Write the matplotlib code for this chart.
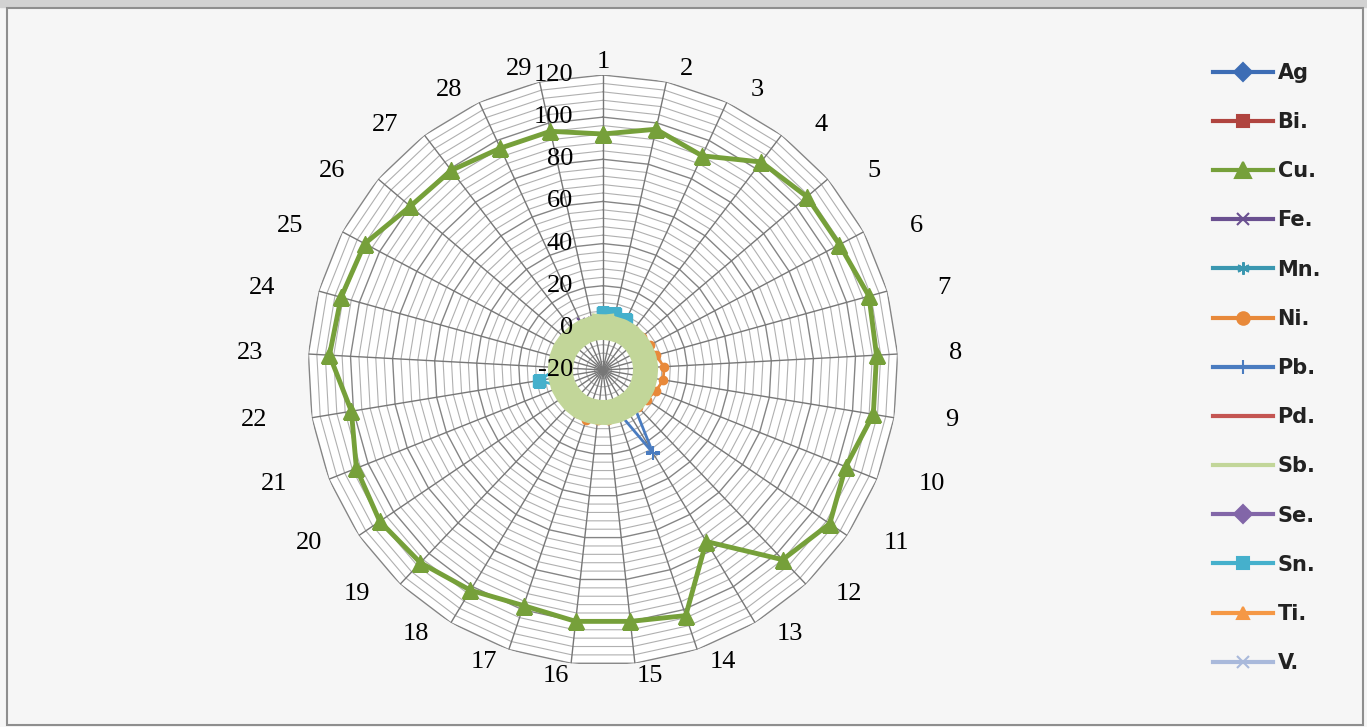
import numpy as np
import matplotlib
matplotlib.use("Agg")
import matplotlib.pyplot as plt
from matplotlib.lines import Line2D
from matplotlib.patches import Rectangle

# ---- data -------------------------------------------------------------
categories = [str(i) for i in range(1, 30)]
r_min, r_max, r_major, r_minor = -20, 120, 20, 4

ag = [0.5, 0.8, 0.6, 0.4, 0.5, 0.7, 0.6, 0.5, 0.4, 0.6, 0.5, 0.7, 1.2, 0.6, 0.5,
      0.4, 0.5, 0.6, 0.5, 0.4, 0.5, 0.6, 0.5, 0.4, 0.5, 0.6, 0.5, 0.4, 0.5]
bi = [0.2, 0.3, 0.2, 0.2, 0.1, 0.2, 0.3, 0.2, 0.2, 0.1, 0.2, 0.2, 0.3, 0.2, 0.2,
      0.1, 0.2, 0.2, 0.3, 0.2, 0.2, 0.1, 0.2, 0.2, 0.2, 0.3, 0.2, 0.2, 0.2]
cu = [92, 97, 92, 104, 107, 107, 111, 110, 110, 104, 110, 104, 75, 103, 100,
      100, 98, 102, 106, 108, 106, 101, 110, 109, 108, 100, 99, 96, 96]
fe = [2, 3, 5, 2, 1, 1, 1, 1, 1, 1, 1, 1, 1, 1, 1,
      1, 1, 1, 1, 1, 1, 1, 1, 2, 2, 2, 3, 5, 4]
mn = [0.3, 0.4, 0.3, 0.3, 0.2, 0.3, 0.4, 0.3, 0.3, 0.2, 0.3, 0.3, 0.4, 0.3, 0.3,
      0.2, 0.3, 0.3, 0.4, 0.3, 0.3, 0.2, 0.3, 0.3, 0.3, 0.4, 0.3, 0.3, 0.3]
ni = [3, 3, 3, 4, 4, 5, 6, 9, 9, 7, 5, 4, 3, 3, 4,
      4, 5, 4, 3, 3, 3, 3, 3, 3, 3, 3, 3, 3, 3]
pb = [0, 0, 0, 0, 0, 0, 0, 0, 0, 0, 0, 0, 26, 0, 0,
      0, 0, 0, 0, 0, 0, 0, 0, 0, 0, 0, 0, 0, 0]
pd = [0.1] * 29
sb = [0.3, 0.2, 0.3, 0.4, 0.3, 0.2, 0.3, 0.3, 0.2, 0.3, 0.4, 0.3, 0.2, 0.3, 0.3,
      0.2, 0.3, 0.4, 0.3, 0.2, 0.3, 0.3, 0.2, 0.3, 0.4, 0.3, 0.2, 0.3, 0.3]
se = [0.1] * 29
sn = [7, 7, 6, 1, 1, 1, 1, 1, 1, 1, 1, 1, 1, 1, 1,
      1, 1, 1, 1, 1, 1, 11, 1, 1, 1, 1, 1, 1, 1]
ti = [2, 2, 2, 2, 2, 2, 3, 3, 3, 2, 2, 2, 2, 2, 2,
      2, 2, 2, 2, 2, 2, 2, 2, 2, 2, 2, 2, 2, 2]
v = [1, 2, 3, 2, 1, 1, 1, 1, 1, 1, 1, 1, 1, 1, 1,
     1, 1, 1, 1, 1, 1, 1, 1, 1, 2, 2, 2, 3, 2]

series = [
    # name, values, color, marker, markersize, linewidth
    ("Ag", ag, "#3d6db5", "D", 6, 2.0),
    ("Bi.", bi, "#b0443f", "s", 6, 2.0),
    ("Cu.", cu, "#76a03a", "^", 12, 3.5),
    ("Fe.", fe, "#6a5090", "x", 6, 2.0),
    ("Mn.", mn, "#3a97b0", (6, 2, 0), 7, 2.0),
    ("Ni.", ni, "#e8893a", "o", 6, 2.0),
    ("Pb.", pb, "#4a7cc0", "+", 10, 2.0),
    ("Pd.", pd, "#c45552", "None", 0, 2.0),
    ("Sb.", sb, "#c2d699", "None", 0, 18.0),
    ("Se.", se, "#8266a8", "D", 6, 2.0),
    ("Sn.", sn, "#45b0cc", "s", 8, 2.0),
    ("Ti.", ti, "#f59845", "^", 6, 2.0),
    ("V.", v, "#a9b9db", "x", 6, 2.0),
]

# ---- figure -----------------------------------------------------------
W, H, DPI = 1367, 727, 100
fig = plt.figure(figsize=(W / DPI, H / DPI), dpi=DPI, facecolor="#f6f6f6")

# window strip and chart frame
fig.add_artist(Rectangle((0, 1 - 7 / H), 1, 7 / H, transform=fig.transFigure,
                         color="#d2d2d2", zorder=0))
fig.add_artist(Rectangle((7 / W, 2 / H), (1363 - 7) / W, (719 - 2) / H,
                         transform=fig.transFigure, fill=False,
                         ec="#8e8e8e", lw=1.5, zorder=1))

cx, cy, R = 603, 370, 295
ax = fig.add_axes([(cx - R) / W, (H - cy - R) / H, 2 * R / W, 2 * R / H],
                  projection="polar")
ax.set_theta_zero_location("N")
ax.set_theta_direction(-1)
ax.set_rlim(r_min, r_max)
ax.grid(False)
ax.set_xticks([])
ax.set_yticks([])
ax.spines["polar"].set_visible(False)
ax.patch.set_visible(False)

n = len(categories)
angles = np.linspace(0, 2 * np.pi, n, endpoint=False)
closed = np.concatenate([angles, angles[:1]])

# plot area and polygon gridlines
ax.fill(closed, [r_max] * (n + 1), color="white", zorder=0)
for level in np.arange(r_min + r_minor, r_max + 0.1, r_minor):
    major = (level - r_min) % r_major == 0
    ax.plot(closed, [level] * (n + 1),
            color="#858585" if major else "#b0b0b0",
            lw=1.0 if major else 0.8, zorder=1)
for a in angles:
    ax.plot([a, a], [r_min, r_max], color="#777777", lw=1.0, zorder=1)

# series
handles = []
for name, vals, color, marker, ms, lw in series:
    vv = list(vals) + [vals[0]]
    if name == "Cu.":
        z = 6
    elif name == "Sb.":
        z = 4
    else:
        z = 3
    ax.plot(closed, vv, color=color, lw=lw, marker=marker, markersize=ms,
            markeredgewidth=1.5 if marker in ("x", "+", (6, 2, 0)) else 1.0,
            zorder=z, solid_joinstyle="round")
    handles.append(Line2D([], [], color=color, lw=3.0, marker=marker,
                          markersize=max(ms, 9) if marker != "None" else 0,
                          markeredgewidth=1.5))

# category labels
for a, lab in zip(angles, categories):
    s = np.sin(a)
    side = 0.0 if abs(s) < 1e-6 else np.sign(s)
    ax.annotate(lab, xy=(a, r_max),
                xytext=(48 * s + 10 * side, 13 * np.cos(a)),
                textcoords="offset pixels", ha="center", va="center",
                fontsize=19, family="Liberation Serif", color="black",
                zorder=10, annotation_clip=False)

# radial value labels
for val in np.arange(r_min, r_max + 0.1, r_major):
    ax.annotate(f"{int(val)}", xy=(0, val), xytext=(-30, 0),
                textcoords="offset pixels", ha="right", va="center",
                fontsize=19, family="Liberation Serif", color="black",
                zorder=10, annotation_clip=False)

leg = fig.legend(handles, [s[0] for s in series], loc="upper left",
                 bbox_to_anchor=(1213 / W, 1 - 63 / H), frameon=False,
                 prop={"family": "DejaVu Sans", "weight": "bold", "size": 15},
                 handlelength=2.9, handletextpad=0.2, labelspacing=1.40,
                 borderpad=0, borderaxespad=0)
for t in leg.get_texts():
    t.set_color("#222222")

fig.savefig("out.png", dpi=DPI, facecolor=fig.get_facecolor())
